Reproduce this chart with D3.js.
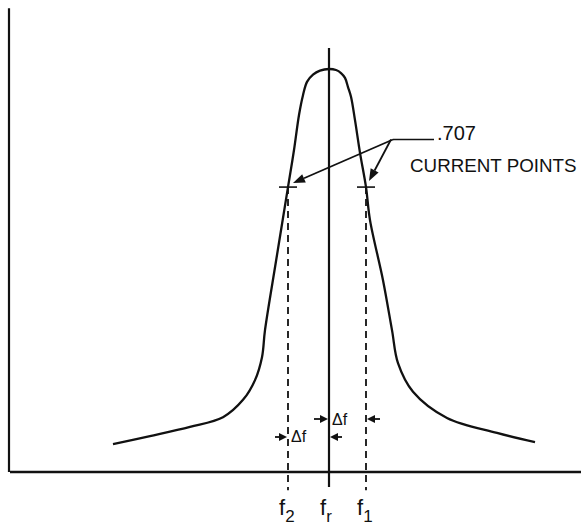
<!DOCTYPE html>
<html><head><meta charset="utf-8">
<script src="https://cdn.jsdelivr.net/npm/d3@7"></script>
<style>html,body{margin:0;padding:0;background:#fff}svg{display:block}</style>
</head><body>
<script>
// Resonance curve: frequency offset from fr (arbitrary units) vs relative current
const freq = [-54, -44.75, -34.75, -26.5, -21.5, -18.5, -16.75, -16, -13.2, -10.25, -8.75, -7.5, -6.5, -5.5, -4, -2.25, 0,
              1.75, 3, 4, 4.75, 5.5, 6.5, 7.75, 9.25, 10.25, 13.5, 15.75, 17.25, 21, 29.5, 42, 51.5];
const current = [0.069, 0.089, 0.112, 0.136, 0.179, 0.228, 0.285, 0.352, 0.526, 0.707, 0.799, 0.886, 0.935, 0.968, 0.986, 0.996, 1.0,
                 0.9975, 0.990, 0.978, 0.955, 0.931, 0.873, 0.792, 0.707, 0.625, 0.476, 0.352, 0.270, 0.199, 0.134, 0.097, 0.074];
const halfPowerLevel = 0.707;
const markerFreqs = [-10.25, 0, 9.25];          // f2, fr, f1
const markerNames = [["f", "2"], ["f", "r"], ["f", "1"]];
const annotation = [".707", "CURRENT POINTS"];
const deltaLabel = "\u0394f";

const W = 581, H = 529;
const x = d3.scaleLinear().domain([-80, 63]).range([9, 581]);
const y = d3.scaleLinear().domain([0, 1]).range([472, 69]);

const svg = d3.select("body").append("svg").attr("width", W).attr("height", H);
const ink = "#111";
const font = "Liberation Sans, Arial, sans-serif";

// axes
svg.append("line").attr("x1", x(-80)).attr("x2", x(-80)).attr("y1", y(1.151)).attr("y2", y(0))
  .attr("stroke", ink).attr("stroke-width", 2.2);
svg.append("line").attr("x1", x(-80) + 1).attr("x2", x(63)).attr("y1", y(0)).attr("y2", y(0))
  .attr("stroke", ink).attr("stroke-width", 2.4);

// resonance curve
const pts = freq.map((f, i) => [f, current[i]]);
svg.append("path").datum(pts)
  .attr("d", d3.line().x(d => x(d[0])).y(d => y(d[1])).curve(d3.curveCatmullRom.alpha(0.5)))
  .attr("fill", "none").attr("stroke", ink).attr("stroke-width", 2.3);

// fr solid line
svg.append("line").attr("x1", x(markerFreqs[1])).attr("x2", x(markerFreqs[1]))
  .attr("y1", y(1.052)).attr("y2", y(-0.037)).attr("stroke", ink).attr("stroke-width", 2.2);

// f2, f1 dashed lines and .707 ticks
[markerFreqs[0], markerFreqs[2]].forEach(f => {
  svg.append("line").attr("x1", x(f)).attr("x2", x(f)).attr("y1", y(halfPowerLevel)).attr("y2", y(-0.045))
    .attr("stroke", ink).attr("stroke-width", 1.8).attr("stroke-dasharray", "7,5");
  svg.append("line").attr("x1", x(f) - 9).attr("x2", x(f) + 9).attr("y1", y(halfPowerLevel)).attr("y2", y(halfPowerLevel))
    .attr("stroke", ink).attr("stroke-width", 1.6);
});

function arrow(x1, y1, x2, y2, len = 8, hw = 3.5, sw = 1.8) {
  const a = Math.atan2(y2 - y1, x2 - x1);
  const bx = x2 - len * Math.cos(a), by = y2 - len * Math.sin(a);
  svg.append("line").attr("x1", x1).attr("y1", y1).attr("x2", bx).attr("y2", by)
    .attr("stroke", ink).attr("stroke-width", sw);
  const px = -Math.sin(a) * hw, py = Math.cos(a) * hw;
  svg.append("path").attr("d", `M${x2},${y2}L${bx + px},${by + py}L${bx - px},${by - py}Z`).attr("fill", ink);
}

// leader to .707 points
const hubX = 393, hubY = y(0.825);
svg.append("line").attr("x1", hubX).attr("x2", 434).attr("y1", hubY).attr("y2", hubY)
  .attr("stroke", ink).attr("stroke-width", 1.6);
arrow(hubX, hubY, x(markerFreqs[0]) + 5, y(halfPowerLevel) - 4, 12, 4.5);
arrow(hubX - 2, hubY, x(markerFreqs[2]) + 3, y(halfPowerLevel) - 6, 12, 4.5);

svg.append("text").attr("x", 437).attr("y", 140).text(annotation[0])
  .attr("font-family", font).attr("font-size", 20).attr("fill", ink);
svg.append("text").attr("x", 410).attr("y", 172).text(annotation[1])
  .attr("font-family", font).attr("font-size", 18.8).attr("fill", ink);

// delta f arrows
const yHi = 419, yLo = 437;
arrow(x(markerFreqs[0]) - 13, yLo, x(markerFreqs[0]) - 1, yLo, 8, 4);
arrow(x(markerFreqs[1]) - 15, yHi, x(markerFreqs[1]) - 1, yHi, 8, 4);
arrow(x(markerFreqs[1]) + 13, yLo, x(markerFreqs[1]) + 1, yLo, 8, 4);
arrow(x(markerFreqs[2]) + 14, yHi, x(markerFreqs[2]) + 1, yHi, 8, 4);

svg.append("text").attr("x", x(markerFreqs[0]) + 3).attr("y", 442).text(deltaLabel)
  .attr("font-family", font).attr("font-size", 16).attr("fill", ink);
svg.append("text").attr("x", x(markerFreqs[1]) + 3).attr("y", 425).text(deltaLabel)
  .attr("font-family", font).attr("font-size", 16).attr("fill", ink);

// f labels
markerFreqs.forEach((f, i) => {
  const t = svg.append("text").attr("x", x(f) - 9).attr("y", 515)
    .attr("font-family", font).attr("fill", ink);
  t.append("tspan").attr("font-size", 22).text(markerNames[i][0]);
  t.append("tspan").attr("font-size", 17).attr("dy", 7).text(markerNames[i][1]);
});
</script>
</body></html>
